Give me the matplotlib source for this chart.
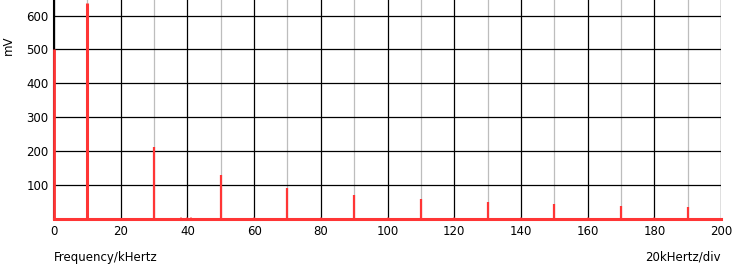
import matplotlib
matplotlib.use("Agg")
import matplotlib.pyplot as plt

# Spectrum data (kHz, mV)
dc_freq = [0]
dc_value = [500]
peak_freqs = [10, 30, 50, 70, 90, 110, 130, 150, 170, 190]
peak_values = [637, 213, 128, 91, 71, 59, 50, 43, 38, 34]
noise_freqs = [20, 38, 40, 41, 58, 60, 62, 79, 80, 100, 101, 119, 120, 121, 140, 146, 155, 160, 165, 180, 195]
noise_values = [3, 4, 5, 4, 3, 6, 3, 3, 5, 5, 3, 3, 5, 3, 5, 3, 3, 5, 3, 4, 3]

x_ticks = list(range(0, 201, 20))
y_ticks = [100, 200, 300, 400, 500, 600]

red = "#ff3535"

fig = plt.figure(figsize=(7.32, 2.65), dpi=100)
ax = fig.add_axes([54 / 732, 1 - 219 / 265, 667 / 732, 219 / 265])
ax.set_xlim(0, 200)
ax.set_ylim(-1, 646)

# grid: gray at odd multiples of 10, black at multiples of 20
for f in range(10, 200, 20):
    ax.axvline(f, color="#bdbdbd", lw=0.9, zorder=1)
for f in x_ticks:
    ax.axvline(f, color="black", lw=0.9, zorder=1)
for v in y_ticks:
    ax.axhline(v, color="black", lw=0.9, zorder=1)

ax.vlines(noise_freqs, 0, noise_values, color=red, lw=1.2, alpha=0.5, zorder=3)
ax.vlines(peak_freqs[:1], 0, peak_values[:1], color=red, lw=2.2, zorder=4)
ax.vlines(peak_freqs[1:], 0, peak_values[1:], color=red, lw=1.6, zorder=4)
ax.vlines(dc_freq, 0, dc_value, color=red, lw=2.0, zorder=5, clip_on=False)
ax.axhline(0, color=red, lw=2.2, zorder=4, clip_on=False)

for s in ["top", "right", "bottom"]:
    ax.spines[s].set_visible(False)
ax.spines["left"].set_color("black")
ax.spines["left"].set_linewidth(1.5)

ax.set_xticks(x_ticks)
ax.set_yticks(y_ticks)
ax.tick_params(length=0, labelsize=8.5, pad=4)
ax.set_xticklabels([str(t) for t in x_ticks])
ax.set_yticklabels([str(t) for t in y_ticks])

fig.text(8 / 732, 1 - 45 / 265, "mV", rotation=90, ha="center", va="center", fontsize=8.5)
fig.text(54 / 732, 1 - 257 / 265, "Frequency/kHertz", ha="left", va="center", fontsize=8.5)
fig.text(721 / 732, 1 - 257 / 265, "20kHertz/div", ha="right", va="center", fontsize=8.5)

fig.savefig("out.png", dpi=100)
